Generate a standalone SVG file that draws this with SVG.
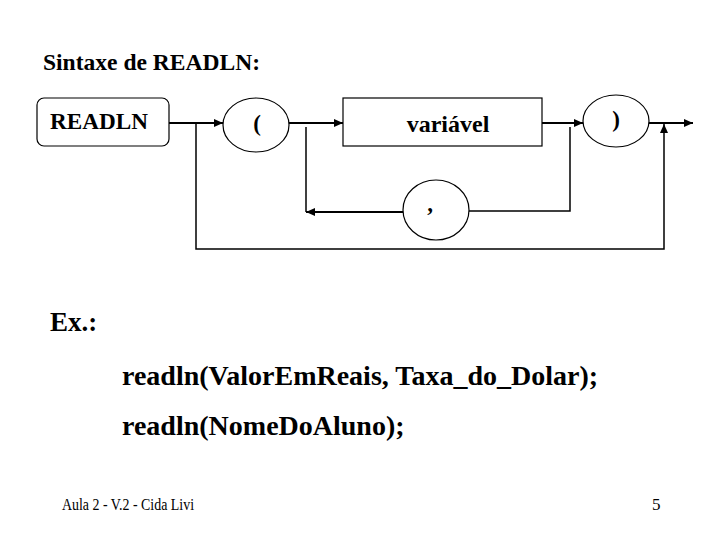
<svg xmlns="http://www.w3.org/2000/svg" width="720" height="540" viewBox="0 0 720 540">
<style>
text{font-family:'Liberation Serif','Times New Roman',Times,'DejaVu Serif',serif;fill:#000}
.b{font-weight:bold}
.shape{fill:#fff;stroke:#000;stroke-width:1.2}
.c{fill:none;stroke:#000;stroke-width:2}
.c1{fill:none;stroke:#000;stroke-width:1.5}
</style>
<defs>
<marker id="ah" markerUnits="userSpaceOnUse" markerWidth="9" markerHeight="8" refX="9" refY="4" orient="auto">
<path d="M0,0 L9,4 L0,8 z" fill="#000"/>
</marker>
</defs>
<rect width="720" height="540" fill="#fff"/>
<text class="b" x="43" y="70" font-size="24" textLength="217" lengthAdjust="spacingAndGlyphs">Sintaxe de READLN:</text>

<g id="connectors">
<path class="c" d="M169,123 H223" marker-end="url(#ah)"/>
<path class="c" d="M289,123 H343" marker-end="url(#ah)"/>
<path class="c" d="M542,123 H583" marker-end="url(#ah)"/>
<path class="c" d="M649,123 H693" marker-end="url(#ah)"/>
<path class="c1" d="M196,123 V249 H664 V124" marker-end="url(#ah)"/>
<path class="c1" d="M570,127 V211 H469"/>
<path class="c" d="M403,212 H306" marker-end="url(#ah)"/>
<path class="c1" d="M306,127 V212"/>
</g>

<g id="node-readln">
<rect class="shape" x="37" y="98" width="132" height="48" rx="7"/>
<text class="b" x="50" y="129" font-size="23" textLength="98" lengthAdjust="spacingAndGlyphs">READLN</text>
</g>
<g id="node-lparen">
<ellipse class="shape" cx="256" cy="125" rx="33" ry="27"/>
<text class="b" x="257" y="131" font-size="23" text-anchor="middle">(</text>
</g>
<g id="node-variavel">
<rect class="shape" x="343" y="98" width="199" height="48"/>
<text class="b" x="448" y="132" font-size="24" text-anchor="middle">variável</text>
</g>
<g id="node-rparen">
<ellipse class="shape" cx="616" cy="121" rx="33" ry="26"/>
<text class="b" x="616" y="127" font-size="23" text-anchor="middle">)</text>
</g>
<g id="node-comma">
<ellipse class="shape" cx="436" cy="210" rx="33" ry="30"/>
<text class="b" x="430" y="211" font-size="23" text-anchor="middle">,</text>
</g>

<text class="b" x="50" y="331" font-size="27">Ex.:</text>
<text class="b" x="122" y="385" font-size="28">readln(ValorEmReais, Taxa_do_Dolar);</text>
<text class="b" x="122" y="435" font-size="28">readln(NomeDoAluno);</text>

<text x="62" y="510" font-size="17" textLength="132" lengthAdjust="spacingAndGlyphs">Aula 2 - V.2 - Cida Livi</text>
<text x="652" y="510" font-size="17">5</text>
</svg>
